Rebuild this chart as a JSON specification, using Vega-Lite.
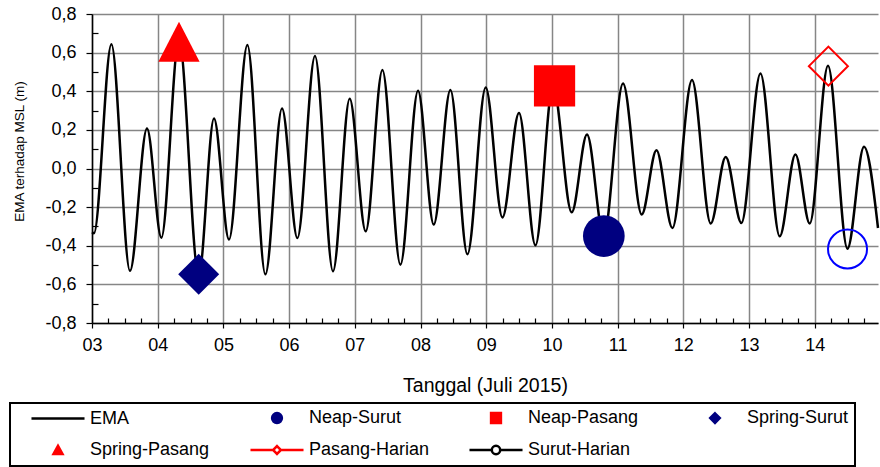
{
  "$schema": "https://vega.github.io/schema/vega-lite/v6.json",
  "width": 786,
  "height": 309,
  "autosize": {"type": "none"},
  "padding": {"left": 92, "top": 14, "right": 2, "bottom": 144},
  "config": {
    "font": "Liberation Sans",
    "view": {"stroke": null},
    "legend": {
      "orient": "none",
      "legendX": -82,
      "legendY": 389,
      "columns": 4,
      "direction": "horizontal",
      "symbolSize": 144,
      "symbolStrokeWidth": 2.5,
      "labelFontSize": 18,
      "labelColor": "black",
      "labelFont": "Liberation Sans",
      "labelLimit": 300,
      "symbolOffset": 33,
      "labelOffset": 23,
      "columnPadding": 24,
      "rowPadding": 12,
      "padding": 6,
      "strokeColor": "black",
      "strokeWidth": 2,
      "gridAlign": "all"
    }
  },
  "datasets": {
    "ema": [
      {"t": 3.0, "v": -0.33}, {"t": 3.03, "v": -0.335}, {"t": 3.295, "v": 0.644}, {"t": 3.578, "v": -0.53},
      {"t": 3.837, "v": 0.207}, {"t": 4.056, "v": -0.358}, {"t": 4.324, "v": 0.67}, {"t": 4.624, "v": -0.555},
      {"t": 4.857, "v": 0.259}, {"t": 5.085, "v": -0.368}, {"t": 5.365, "v": 0.639}, {"t": 5.639, "v": -0.548},
      {"t": 5.892, "v": 0.311}, {"t": 6.126, "v": -0.36}, {"t": 6.394, "v": 0.582}, {"t": 6.668, "v": -0.532},
      {"t": 6.922, "v": 0.361}, {"t": 7.166, "v": -0.325}, {"t": 7.42, "v": 0.51}, {"t": 7.694, "v": -0.498},
      {"t": 7.962, "v": 0.402}, {"t": 8.201, "v": -0.29}, {"t": 8.455, "v": 0.406}, {"t": 8.714, "v": -0.444},
      {"t": 8.992, "v": 0.42}, {"t": 9.247, "v": -0.254}, {"t": 9.499, "v": 0.288}, {"t": 9.749, "v": -0.398},
      {"t": 10.017, "v": 0.43}, {"t": 10.301, "v": -0.227}, {"t": 10.534, "v": 0.176}, {"t": 10.788, "v": -0.35},
      {"t": 11.082, "v": 0.44}, {"t": 11.367, "v": -0.238}, {"t": 11.591, "v": 0.095}, {"t": 11.834, "v": -0.308},
      {"t": 12.132, "v": 0.458}, {"t": 12.417, "v": -0.285}, {"t": 12.645, "v": 0.06}, {"t": 12.884, "v": -0.282},
      {"t": 13.174, "v": 0.492}, {"t": 13.467, "v": -0.351}, {"t": 13.706, "v": 0.073}, {"t": 13.924, "v": -0.285},
      {"t": 14.202, "v": 0.532}, {"t": 14.498, "v": -0.415}, {"t": 14.75, "v": 0.112}, {"t": 14.963, "v": -0.308}
    ],
    "markers": [
      {"t": 4.324, "v": 0.656, "series": "Spring-Pasang"},
      {"t": 4.624, "v": -0.548, "series": "Spring-Surut"},
      {"t": 10.04, "v": 0.428, "series": "Neap-Pasang"},
      {"t": 10.79, "v": -0.35, "series": "Neap-Surut"},
      {"t": 14.208, "v": 0.53, "series": "Pasang-Harian"},
      {"t": 14.499, "v": -0.417, "series": "Surut-Harian"}
    ]
  },
  "layer": [
    {
      "data": {"name": "ema"},
      "mark": {"type": "line", "color": "black", "strokeWidth": 2.5, "interpolate": "monotone"},
      "encoding": {
        "x": {
          "field": "t", "type": "quantitative",
          "scale": {"domain": [3, 14.963], "nice": false, "zero": false},
          "axis": {
            "values": [3,3.25,3.5,3.75,4,4.25,4.5,4.75,5,5.25,5.5,5.75,6,6.25,6.5,6.75,7,7.25,7.5,7.75,8,8.25,8.5,8.75,9,9.25,9.5,9.75,10,10.25,10.5,10.75,11,11.25,11.5,11.75,12,12.25,12.5,12.75,13,13.25,13.5,13.75,14,14.25,14.5,14.75],
            "tickCount": 200,
            "title": "Tanggal (Juli 2015)",
            "titleFontSize": 19.5, "titleFontWeight": "normal", "titleColor": "black",
            "titleBaseline": "alphabetic", "titleY": 68,
            "labelExpr": "datum.value % 1 == 0 ? (datum.value < 10 ? '0' : '') + datum.value : ''",
            "labelFontSize": 18, "labelColor": "black", "labelPadding": 8,
            "labelFlush": false, "labelOverlap": false, "labelBound": false,
            "tickSize": {"condition": {"test": "datum.value % 1 == 0", "value": 5}, "value": -5},
            "tickColor": "black", "tickWidth": 1.2,
            "grid": true, "gridColor": "#868686", "gridWidth": 1.5,
            "gridOpacity": {"condition": {"test": "datum.value % 1 == 0", "value": 1}, "value": 0},
            "domainColor": "black", "domainWidth": 1.5
          }
        },
        "y": {
          "field": "v", "type": "quantitative",
          "scale": {"domain": [-0.8, 0.8], "nice": false, "zero": false},
          "axis": {
            "values": [-0.8,-0.7,-0.6,-0.5,-0.4,-0.3,-0.2,-0.1,0,0.1,0.2,0.3,0.4,0.5,0.6,0.7,0.8],
            "tickCount": 200,
            "title": "EMA terhadap MSL (m)",
            "titleFontSize": 13.5, "titleFontWeight": "normal", "titleColor": "black",
            "titleBaseline": "alphabetic", "titleAngle": -90, "titleX": -69, "titleY": 137,
            "labelExpr": "abs(datum.value*5 - round(datum.value*5)) < 0.001 ? replace(replace(format(datum.value, '.1f'), '.', ','), '\u2212', '-') : ''",
            "labelFontSize": 18, "labelColor": "black", "labelPadding": 10,
            "labelFlush": false, "labelOverlap": false, "labelBound": false,
            "tickSize": {"condition": {"test": "abs(datum.value*5 - round(datum.value*5)) < 0.001", "value": 6}, "value": -6},
            "tickColor": "black", "tickWidth": 1.2,
            "grid": true, "gridColor": "#868686", "gridWidth": 1.5,
            "gridOpacity": {"condition": {"test": "abs(datum.value*5 - round(datum.value*5)) < 0.001", "value": 1}, "value": 0},
            "domainColor": "black", "domainWidth": 1.5
          }
        }
      }
    },
    {
      "data": {"name": "markers"},
      "transform": [{"filter": "datum.series == 'Spring-Pasang'"}],
      "mark": {"type": "point", "shape": "M-1,0.97L1,0.97L0,-0.97Z", "filled": true, "color": "#FF0000", "size": 1700, "opacity": 1},
      "encoding": {
        "x": {"field": "t", "type": "quantitative", "scale": {"domain": [3, 14.963], "nice": false, "zero": false}},
        "y": {"field": "v", "type": "quantitative", "scale": {"domain": [-0.8, 0.8], "nice": false, "zero": false}}
      }
    },
    {
      "data": {"name": "markers"},
      "transform": [{"filter": "datum.series == 'Spring-Surut'"}],
      "mark": {"type": "point", "shape": "diamond", "filled": true, "color": "#000080", "size": 1681, "opacity": 1},
      "encoding": {
        "x": {"field": "t", "type": "quantitative", "scale": {"domain": [3, 14.963], "nice": false, "zero": false}},
        "y": {"field": "v", "type": "quantitative", "scale": {"domain": [-0.8, 0.8], "nice": false, "zero": false}}
      }
    },
    {
      "data": {"name": "markers"},
      "transform": [{"filter": "datum.series == 'Neap-Pasang'"}],
      "mark": {"type": "point", "shape": "square", "filled": true, "color": "#FF0000", "size": 1700, "opacity": 1},
      "encoding": {
        "x": {"field": "t", "type": "quantitative", "scale": {"domain": [3, 14.963], "nice": false, "zero": false}},
        "y": {"field": "v", "type": "quantitative", "scale": {"domain": [-0.8, 0.8], "nice": false, "zero": false}}
      }
    },
    {
      "data": {"name": "markers"},
      "transform": [{"filter": "datum.series == 'Neap-Surut'"}],
      "mark": {"type": "point", "shape": "circle", "filled": true, "color": "#000080", "size": 1740, "opacity": 1},
      "encoding": {
        "x": {"field": "t", "type": "quantitative", "scale": {"domain": [3, 14.963], "nice": false, "zero": false}},
        "y": {"field": "v", "type": "quantitative", "scale": {"domain": [-0.8, 0.8], "nice": false, "zero": false}}
      }
    },
    {
      "data": {"name": "markers"},
      "transform": [{"filter": "datum.series == 'Pasang-Harian'"}],
      "mark": {"type": "point", "shape": "diamond", "filled": false, "color": "#FF0000", "strokeWidth": 2, "size": 1521, "opacity": 1},
      "encoding": {
        "x": {"field": "t", "type": "quantitative", "scale": {"domain": [3, 14.963], "nice": false, "zero": false}},
        "y": {"field": "v", "type": "quantitative", "scale": {"domain": [-0.8, 0.8], "nice": false, "zero": false}}
      }
    },
    {
      "data": {"name": "markers"},
      "transform": [{"filter": "datum.series == 'Surut-Harian'"}],
      "mark": {"type": "point", "shape": "circle", "filled": false, "color": "#0000FF", "strokeWidth": 2, "size": 1521, "opacity": 1},
      "encoding": {
        "x": {"field": "t", "type": "quantitative", "scale": {"domain": [3, 14.963], "nice": false, "zero": false}},
        "y": {"field": "v", "type": "quantitative", "scale": {"domain": [-0.8, 0.8], "nice": false, "zero": false}}
      }
    },
    {
      "data": {"values": []},
      "mark": {"type": "point", "filled": true, "size": 144, "strokeWidth": 2.5, "opacity": 1},
      "encoding": {
        "shape": {
          "field": "series", "type": "nominal",
          "scale": {
            "domain": ["EMA", "Neap-Surut", "Neap-Pasang", "Spring-Surut", "Spring-Pasang", "Pasang-Harian", "Surut-Harian"],
            "range": [
              "M-4.42,0L4.42,0",
              "M0.82,0A0.82,0.82,0,1,1,-0.82,0A0.82,0.82,0,1,1,0.82,0Z",
              "M-0.82,-0.82L0.82,-0.82L0.82,0.82L-0.82,0.82Z",
              "M0,-0.8L0.8,0L0,0.8L-0.8,0Z",
              "M-0.75,0.65L0.75,0.65L0,-0.7Z",
              "M-4.42,0L-0.65,0M0.65,0L4.42,0M0,-0.65L0.65,0L0,0.65L-0.65,0Z",
              "M-4.42,0L-0.7,0M0.7,0L4.42,0M0.7,0A0.7,0.7,0,1,1,-0.7,0A0.7,0.7,0,1,1,0.7,0Z"
            ]
          },
          "legend": {"title": null}
        },
        "fill": {
          "field": "series", "type": "nominal",
          "scale": {
            "domain": ["EMA", "Neap-Surut", "Neap-Pasang", "Spring-Surut", "Spring-Pasang", "Pasang-Harian", "Surut-Harian"],
            "range": ["black", "#000080", "#FF0000", "#000080", "#FF0000", "white", "white"]
          },
          "legend": {"title": null}
        },
        "stroke": {
          "field": "series", "type": "nominal",
          "scale": {
            "domain": ["EMA", "Neap-Surut", "Neap-Pasang", "Spring-Surut", "Spring-Pasang", "Pasang-Harian", "Surut-Harian"],
            "range": ["black", "#000080", "#FF0000", "#000080", "#FF0000", "#FF0000", "black"]
          },
          "legend": {"title": null}
        }
      }
    }
  ]
}
